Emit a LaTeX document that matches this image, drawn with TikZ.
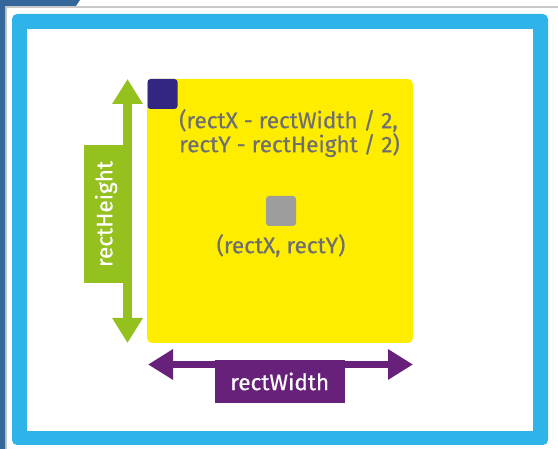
\documentclass[tikz,border=0pt]{standalone}
\usepackage{fontspec}
\setmainfont{Fira Sans}
\newfontfamily\lblfont{Fira Sans}[FakeBold=0.5]
\usetikzlibrary{arrows.meta}
\definecolor{framebl}{HTML}{2FB4E9}
\definecolor{edgebl}{HTML}{34679A}
\definecolor{edgegr}{HTML}{C8C8C8}
\definecolor{rectyl}{HTML}{FFED00}
\definecolor{cornersq}{HTML}{312783}
\definecolor{centersq}{HTML}{9D9D9D}
\definecolor{txtgray}{HTML}{706F6F}
\definecolor{hgreen}{HTML}{95C11F}
\definecolor{wpurple}{HTML}{68217A}
\tikzset{
  sq/.style={rounded corners=3pt, minimum width=30pt, minimum height=30pt, inner sep=0pt},
  lbl/.style={text=txtgray, font=\lblfont\fontsize{22.5}{24}\selectfont, inner sep=0pt},
  tag/.style={text=white, font=\lblfont\fontsize{22.5}{24}\selectfont, inner sep=0pt},
  dimarrow/.style={line width=#1, {Triangle[width=29pt,length=25pt]}-{Triangle[width=29pt,length=25pt]}},
}
\begin{document}
\begin{tikzpicture}[x=1pt,y=-1pt]
\useasboundingbox (0,0) rectangle (558,449);
\fill[white] (0,0) rectangle (558,449);
% page edge at top-left
\fill[edgegr] (5,6) rectangle (558,8);
\fill[edgegr] (5,6) rectangle (7,449);
\fill[edgebl] (0,0) -- (80,0) -- (76,6) -- (5,6) -- (5,449) -- (0,449) -- cycle;
% frame
\fill[framebl, rounded corners=5pt] (12,14) rectangle (548,445);
\fill[white] (27,29) rectangle (533,431);
% yellow rectangle
\node[fill=rectyl, rounded corners=5pt, minimum width=266pt, minimum height=264pt, inner sep=0pt] (rect) at (280,211) {};
\node[sq, fill=cornersq] (corner) at (162.5,94) {};
\node[sq, fill=centersq] (center) at (281,211) {};
\node[lbl, align=left, anchor=north west] (cornerlbl) at (179,109) {(rectX - rectWidth / 2,\\rectY - rectHeight / 2)};
\node[lbl, anchor=north] (centerlbl) at (281,234) {(rectX, rectY)};
% height arrow
\node[fill=hgreen, minimum width=44pt, minimum height=138pt, inner sep=0pt] (hbox) at (106,214) {};
\node[tag, rotate=90] (hlbl) at (hbox.center) {rectHeight};
\coordinate (htop) at (127.5,79);
\coordinate (hbot) at (127.5,343);
\draw[hgreen, dimarrow=8.5pt] (htop) -- (hbot);
% width arrow
\coordinate (wleft) at (148,364.5);
\coordinate (wright) at (413,364.5);
\draw[wpurple, dimarrow=7pt] (wleft) -- (wright);
\node[fill=wpurple, minimum width=129.5pt, minimum height=43pt, inner sep=0pt] (wbox) at (279.75,381.5) {};
\node[tag] (wlbl) at (wbox.center) {rectWidth};
\end{tikzpicture}
\end{document}
